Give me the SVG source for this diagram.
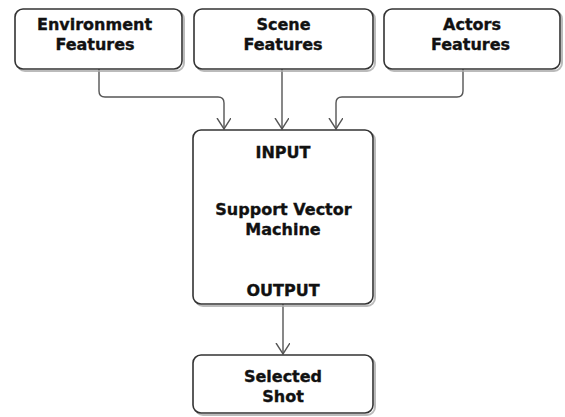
<svg xmlns="http://www.w3.org/2000/svg" width="565" height="417" viewBox="0 0 565 417">
<defs>
<style>
.box{fill:#fff;stroke:#333;stroke-width:1.6}
.shadow{fill:none;stroke:#aaa;stroke-width:2;opacity:.8}
.t{font-family:"DejaVu Sans",sans-serif;font-weight:bold;font-size:16px;fill:#111;stroke:#111;stroke-width:0.35;text-anchor:middle}
.c{fill:none;stroke:#555;stroke-width:1.4}
</style>
<marker id="arr" markerWidth="16" markerHeight="16" refX="11" refY="7" orient="auto" markerUnits="userSpaceOnUse">
<path d="M0,0 L11,7 L0,14" fill="none" stroke="#555" stroke-width="1.4"/>
</marker>
</defs>
<rect width="565" height="417" fill="#fff"/>
<g id="connectors">
<path class="c" d="M99,69 V91 Q99,97 105,97 H218 Q224,97 224,103 V129" marker-end="url(#arr)"/>
<path class="c" d="M282,69 V129" marker-end="url(#arr)"/>
<path class="c" d="M463,69 V91 Q463,97 457,97 H342 Q336,97 336,103 V129" marker-end="url(#arr)"/>
<path class="c" d="M283,304 V354" marker-end="url(#arr)"/>
</g>
<g id="env">
<rect class="shadow" x="17" y="11" width="167" height="60" rx="8"/>
<rect class="box" x="15" y="9" width="167" height="60" rx="8"/>
<text class="t" x="94.5" y="30">Environment</text>
<text class="t" x="95" y="50">Features</text>
</g>
<g id="scene">
<rect class="shadow" x="196" y="11" width="179" height="60" rx="8"/>
<rect class="box" x="194" y="9" width="179" height="60" rx="8"/>
<text class="t" x="283.5" y="30">Scene</text>
<text class="t" x="283" y="50">Features</text>
</g>
<g id="actors">
<rect class="shadow" x="386" y="11" width="176" height="60" rx="8"/>
<rect class="box" x="384" y="9" width="176" height="60" rx="8"/>
<text class="t" x="472" y="30">Actors</text>
<text class="t" x="470.5" y="50">Features</text>
</g>
<g id="svm">
<rect class="shadow" x="195" y="132" width="180" height="174" rx="8"/>
<rect class="box" x="193" y="130" width="180" height="174" rx="8"/>
<text class="t" x="283" y="158">INPUT</text>
<text class="t" x="283.5" y="215">Support Vector</text>
<text class="t" x="283" y="235">Machine</text>
<text class="t" x="283" y="296">OUTPUT</text>
</g>
<g id="shot">
<rect class="shadow" x="195" y="357" width="180" height="58" rx="8"/>
<rect class="box" x="193" y="355" width="180" height="58" rx="8"/>
<text class="t" x="283" y="382">Selected</text>
<text class="t" x="283" y="402">Shot</text>
</g>
</svg>
